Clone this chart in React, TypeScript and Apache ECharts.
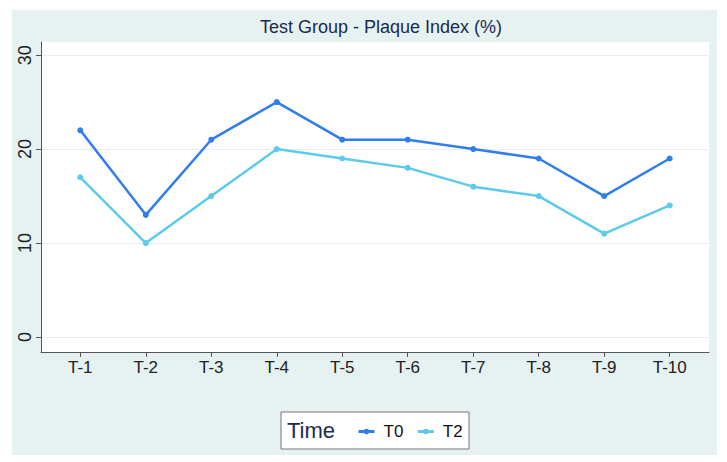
import React, { useEffect, useRef } from "react";
import * as echarts from "echarts";

const categories = ["T-1", "T-2", "T-3", "T-4", "T-5", "T-6", "T-7", "T-8", "T-9", "T-10"];
const t0Values = [22, 13, 21, 25, 21, 21, 20, 19, 15, 19];
const t2Values = [17, 10, 15, 20, 19, 18, 16, 15, 11, 14];
const yTicks = [0, 10, 20, 30];

const FONT = "'Liberation Sans', Arial, sans-serif";

export default function App() {
  const ref = useRef<HTMLDivElement>(null);
  useEffect(() => {
    if (!ref.current) return;
    const chart = echarts.init(ref.current, null, { renderer: "svg" });
    const xIdx = categories.map((_, i) => i + 1);
    chart.setOption({
      animation: false,
      backgroundColor: "#ffffff",
      textStyle: { fontFamily: FONT },
      graphic: [
        { type: "rect", z: -10, shape: { x: 12, y: 10, width: 705, height: 445 }, style: { fill: "#E6F1F2" }, silent: true },
        { type: "rect", z: 5, shape: { x: 281, y: 412, width: 188, height: 37 }, style: { fill: "#ffffff", stroke: "#777777", lineWidth: 1 }, silent: true },
        { type: "text", z: 6, x: 287, y: 430, style: { text: "Time", font: "22px " + FONT, fill: "#1a2a50", verticalAlign: "middle" }, silent: true },
      ],
      title: {
        text: "Test Group - Plaque Index (%)",
        left: 376,
        textAlign: "center",
        top: 13,
        textStyle: { fontSize: 18, fontWeight: "normal", color: "#1a2a50", fontFamily: FONT },
      },
      legend: {
        data: ["T0", "T2"],
        left: 352,
        top: 418,
        itemWidth: 16,
        itemHeight: 7,
        itemGap: 13,
        z: 10,
        lineStyle: { width: 3 },
        textStyle: { fontSize: 17, color: "#111", fontFamily: FONT, padding: [0, 0, 0, 4] },
      },
      grid: {
        left: 41,
        top: 42,
        right: 18,
        bottom: 110,
        show: true,
        backgroundColor: "#ffffff",
        borderWidth: 0,
      },
      xAxis: {
        type: "value",
        min: 0.4,
        max: 10.6,
        axisLine: { show: true, onZero: false, lineStyle: { color: "#555", width: 1 } },
        axisTick: { show: true, length: 5, customValues: xIdx, lineStyle: { color: "#555" } },
        axisLabel: {
          customValues: xIdx,
          formatter: (v: number) => categories[Math.round(v) - 1] ?? "",
          fontSize: 17,
          color: "#222",
          margin: 7,
          fontFamily: FONT,
        },
        splitLine: { show: false },
      },
      yAxis: {
        type: "value",
        min: -1.6,
        max: 31.4,
        axisLine: { show: true, onZero: false, lineStyle: { color: "#555", width: 1 } },
        axisTick: { show: true, length: 5, customValues: yTicks, lineStyle: { color: "#555" } },
        axisLabel: {
          customValues: yTicks,
          rotate: 90,
          fontSize: 18,
          color: "#222",
          margin: 7,
          fontFamily: FONT,
        },
        splitLine: { show: true, customValues: yTicks, lineStyle: { color: "#E6F0F2", width: 1 } },
      },
      series: [
        {
          name: "T0",
          type: "line",
          data: t0Values.map((v, i) => [xIdx[i], v]),
          color: "#2F7EEB",
          lineStyle: { width: 2.5, color: "#2F7EEB" },
          symbol: "circle",
          symbolSize: 6,
          itemStyle: { color: "#2F7EEB" },
        },
        {
          name: "T2",
          type: "line",
          data: t2Values.map((v, i) => [xIdx[i], v]),
          color: "#5CCBEA",
          lineStyle: { width: 2.5, color: "#5CCBEA" },
          symbol: "circle",
          symbolSize: 6,
          itemStyle: { color: "#5CCBEA" },
        },
      ],
    });
    return () => chart.dispose();
  }, []);
  return (
    <div style={{ position: "absolute", left: 0, top: 0, width: 727, height: 462 }}>
      <div ref={ref} style={{ width: 727, height: 462 }} />
    </div>
  );
}
